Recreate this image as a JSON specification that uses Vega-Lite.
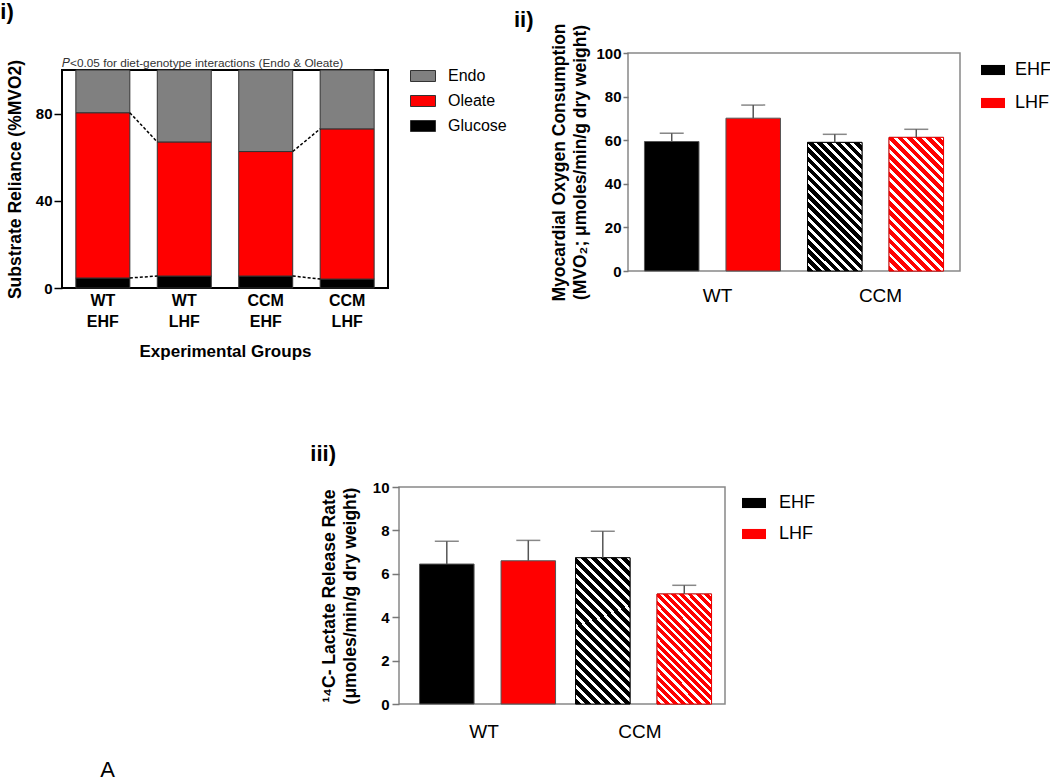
{
  "$schema": "https://vega.github.io/schema/vega-lite/v6.json",
  "padding": {"left": 0, "top": 0, "right": 0, "bottom": 0},
  "config": {
    "font": "Liberation Sans",
    "view": {"stroke": null},
    "axis": {"grid": false, "labelColor": "#000", "titleColor": "#000"},
    "legend": {"labelColor": "#000"},
    "title": {"color": "#000"}
  },
  "title": {"text": "A", "orient": "bottom", "anchor": "start", "dx": 100, "fontSize": 22, "fontWeight": "normal", "offset": 18},
  "bounds": "flush",
  "spacing": 434,
  "resolve": {"scale": {"color": "independent"}, "legend": {"color": "independent"}},
  "vconcat": [
    {
      "bounds": "flush",
      "spacing": 566,
      "resolve": {"scale": {"color": "independent"}, "legend": {"color": "independent"}},
      "hconcat": [
        {
          "bounds": "flush",
          "spacing": 16,
          "title": {"text": "i)", "anchor": "start", "fontSize": 22, "fontWeight": "bold", "offset": 27, "dx": -5},
          "vconcat": [
            {"width": 1, "height": 1, "data": {"values": [{}]}, "mark": {"type": "point", "opacity": 0}},
            {
              "width": 326,
              "height": 218,
              "view": {"stroke": "#000", "strokeWidth": 2},
              "title": {"text": "𝑃<0.05 for diet-genotype interactions (Endo & Oleate)", "anchor": "start", "frame": "group", "fontSize": 11.8, "fontWeight": "normal", "color": "#333", "offset": -10},
              "layer": [
                {
                  "data": {"values": [
                    {"group": "WT EHF", "substrate": "Glucose", "layer": 1, "value": 4.6},
                    {"group": "WT EHF", "substrate": "Oleate", "layer": 2, "value": 75.8},
                    {"group": "WT EHF", "substrate": "Endo", "layer": 3, "value": 19.6},
                    {"group": "WT LHF", "substrate": "Glucose", "layer": 1, "value": 5.5},
                    {"group": "WT LHF", "substrate": "Oleate", "layer": 2, "value": 61.5},
                    {"group": "WT LHF", "substrate": "Endo", "layer": 3, "value": 33.0},
                    {"group": "CCM EHF", "substrate": "Glucose", "layer": 1, "value": 5.5},
                    {"group": "CCM EHF", "substrate": "Oleate", "layer": 2, "value": 57.1},
                    {"group": "CCM EHF", "substrate": "Endo", "layer": 3, "value": 37.4},
                    {"group": "CCM LHF", "substrate": "Glucose", "layer": 1, "value": 4.1},
                    {"group": "CCM LHF", "substrate": "Oleate", "layer": 2, "value": 68.9},
                    {"group": "CCM LHF", "substrate": "Endo", "layer": 3, "value": 27.0}
                  ]},
                  "mark": {"type": "bar", "stroke": "#333", "strokeWidth": 1},
                  "encoding": {
                    "x": {"field": "group", "type": "nominal", "title": "Experimental Groups",
                      "scale": {"domain": ["WT EHF", "WT LHF", "CCM EHF", "CCM LHF"], "paddingInner": 0.337, "paddingOuter": 0.17},
                      "axis": {"labelExpr": "split(datum.label, ' ')", "labelAngle": 0, "labelFontSize": 16, "labelFontWeight": "bold", "labelLineHeight": 21, "labelPadding": 4, "ticks": false, "domain": false, "titleFontSize": 17, "titleFontWeight": "bold", "titlePadding": 14}},
                    "y": {"field": "value", "type": "quantitative", "stack": "zero", "title": "Substrate Reliance (%MVO2)",
                      "scale": {"domain": [0, 100], "nice": false},
                      "axis": {"values": [0, 40, 80], "labelFontSize": 15, "labelFontWeight": "bold", "tickSize": 8, "tickWidth": 1.5, "tickColor": "#000", "domain": false, "labelPadding": 2, "titleFontSize": 17.5, "titleFontWeight": "bold", "titlePadding": 11}},
                    "color": {"field": "substrate", "type": "nominal",
                      "scale": {"domain": ["Endo", "Oleate", "Glucose"], "range": ["#808080", "#ff0000", "#000000"]},
                      "legend": {"title": null, "orient": "right", "offset": 11, "padding": 10, "symbolType": "M-1,-0.44H1V0.44H-1Z", "symbolSize": 625, "symbolStrokeColor": "#333", "symbolStrokeWidth": 1, "labelFontSize": 16, "labelOffset": 12, "rowPadding": 4}},
                    "order": {"field": "layer", "type": "quantitative"}
                  }
                },
                {
                  "data": {"values": [
                    {"from": "WT EHF", "to": "WT LHF", "start": 80.4, "end": 67.0},
                    {"from": "CCM EHF", "to": "CCM LHF", "start": 62.6, "end": 73.0},
                    {"from": "WT EHF", "to": "WT LHF", "start": 4.6, "end": 5.5},
                    {"from": "CCM EHF", "to": "CCM LHF", "start": 5.5, "end": 4.1}
                  ]},
                  "mark": {"type": "rule", "color": "#000", "strokeWidth": 1.5, "strokeDash": [3, 2]},
                  "encoding": {
                    "x": {"field": "from", "type": "nominal", "bandPosition": 1, "title": "Experimental Groups", "scale": {"domain": ["WT EHF", "WT LHF", "CCM EHF", "CCM LHF"]}},
                    "x2": {"field": "to", "bandPosition": 0},
                    "y": {"field": "start", "type": "quantitative", "title": "Substrate Reliance (%MVO2)"},
                    "y2": {"field": "end"}
                  }
                }
              ]
            }
          ]
        },
        {
          "width": 332,
          "height": 218,
          "view": {"stroke": "#888", "strokeWidth": 1.5},
          "title": {"text": "ii)", "anchor": "start", "fontSize": 22, "fontWeight": "bold", "offset": -9, "dx": -37},
          "data": {"values": [
            {"genotype": "WT", "diet": "EHF", "mean": 59.4, "upper": 63.2},
            {"genotype": "WT", "diet": "LHF", "mean": 70.1, "upper": 76.1},
            {"genotype": "CCM", "diet": "EHF", "mean": 59.0, "upper": 62.7},
            {"genotype": "CCM", "diet": "LHF", "mean": 61.3, "upper": 65.0}
          ]},
          "encoding": {
            "x": {"field": "genotype", "type": "nominal", "title": null,
              "scale": {"domain": ["WT", "CCM"], "paddingInner": 0, "paddingOuter": 0.018},
              "axis": {"labelAngle": 0, "labelFontSize": 19, "labelPadding": 15, "ticks": false, "domain": false, "labelOffset": 5}},
            "xOffset": {"field": "diet", "type": "nominal", "scale": {"domain": ["EHF", "LHF"], "paddingInner": 0.331, "paddingOuter": 0.166}}
          },
          "layer": [
            {
              "mark": {"type": "bar", "stroke": "#555", "strokeWidth": 1},
              "encoding": {
                "y": {"field": "mean", "type": "quantitative", "title": ["Myocardial Oxygen Consumption", "(MVO₂; μmoles/min/g dry weight)"],
                  "scale": {"domain": [0, 100], "nice": false},
                  "axis": {"values": [0, 20, 40, 60, 80, 100], "labelFontSize": 15, "labelFontWeight": "bold", "tickSize": 5, "tickColor": "#777", "tickWidth": 1.5, "domain": false, "labelPadding": 2, "titleFontSize": 17.5, "titleFontWeight": "bold", "titleLineHeight": 21, "titlePadding": 6}},
                "color": {"field": "diet", "type": "nominal",
                  "scale": {"domain": ["EHF", "LHF"], "range": ["#000000", "#ff0000"]},
                  "legend": {"title": null, "orient": "right", "offset": 16, "padding": 5, "symbolType": "M-1,-0.42H1V0.42H-1Z", "symbolSize": 576, "symbolStrokeWidth": 0, "labelFontSize": 18, "labelOffset": 10, "rowPadding": 12}}
              }
            },
            {
              "transform": [{"filter": "datum.genotype === 'CCM' && datum.diet === 'EHF'"}],
              "mark": {"type": "bar", "stroke": "#000", "strokeWidth": 1,
                "fill": {"gradient": "linear", "x1": 0, "y1": 1, "x2": 0.5115, "y2": -0.207, "stops": [
                  {"offset": 0, "color": "#000"}, {"offset": 0.03, "color": "#000"}, {"offset": 0.03, "color": "#fff"}, {"offset": 0.05, "color": "#fff"},
                  {"offset": 0.05, "color": "#000"}, {"offset": 0.08, "color": "#000"}, {"offset": 0.08, "color": "#fff"}, {"offset": 0.1, "color": "#fff"},
                  {"offset": 0.1, "color": "#000"}, {"offset": 0.13, "color": "#000"}, {"offset": 0.13, "color": "#fff"}, {"offset": 0.15, "color": "#fff"},
                  {"offset": 0.15, "color": "#000"}, {"offset": 0.18, "color": "#000"}, {"offset": 0.18, "color": "#fff"}, {"offset": 0.2, "color": "#fff"},
                  {"offset": 0.2, "color": "#000"}, {"offset": 0.23, "color": "#000"}, {"offset": 0.23, "color": "#fff"}, {"offset": 0.25, "color": "#fff"},
                  {"offset": 0.25, "color": "#000"}, {"offset": 0.28, "color": "#000"}, {"offset": 0.28, "color": "#fff"}, {"offset": 0.3, "color": "#fff"},
                  {"offset": 0.3, "color": "#000"}, {"offset": 0.33, "color": "#000"}, {"offset": 0.33, "color": "#fff"}, {"offset": 0.35, "color": "#fff"},
                  {"offset": 0.35, "color": "#000"}, {"offset": 0.38, "color": "#000"}, {"offset": 0.38, "color": "#fff"}, {"offset": 0.4, "color": "#fff"},
                  {"offset": 0.4, "color": "#000"}, {"offset": 0.43, "color": "#000"}, {"offset": 0.43, "color": "#fff"}, {"offset": 0.45, "color": "#fff"},
                  {"offset": 0.45, "color": "#000"}, {"offset": 0.48, "color": "#000"}, {"offset": 0.48, "color": "#fff"}, {"offset": 0.5, "color": "#fff"},
                  {"offset": 0.5, "color": "#000"}, {"offset": 0.53, "color": "#000"}, {"offset": 0.53, "color": "#fff"}, {"offset": 0.55, "color": "#fff"},
                  {"offset": 0.55, "color": "#000"}, {"offset": 0.58, "color": "#000"}, {"offset": 0.58, "color": "#fff"}, {"offset": 0.6, "color": "#fff"},
                  {"offset": 0.6, "color": "#000"}, {"offset": 0.63, "color": "#000"}, {"offset": 0.63, "color": "#fff"}, {"offset": 0.65, "color": "#fff"},
                  {"offset": 0.65, "color": "#000"}, {"offset": 0.68, "color": "#000"}, {"offset": 0.68, "color": "#fff"}, {"offset": 0.7, "color": "#fff"},
                  {"offset": 0.7, "color": "#000"}, {"offset": 0.73, "color": "#000"}, {"offset": 0.73, "color": "#fff"}, {"offset": 0.75, "color": "#fff"},
                  {"offset": 0.75, "color": "#000"}, {"offset": 0.78, "color": "#000"}, {"offset": 0.78, "color": "#fff"}, {"offset": 0.8, "color": "#fff"},
                  {"offset": 0.8, "color": "#000"}, {"offset": 0.83, "color": "#000"}, {"offset": 0.83, "color": "#fff"}, {"offset": 0.85, "color": "#fff"},
                  {"offset": 0.85, "color": "#000"}, {"offset": 0.88, "color": "#000"}, {"offset": 0.88, "color": "#fff"}, {"offset": 0.9, "color": "#fff"},
                  {"offset": 0.9, "color": "#000"}, {"offset": 0.93, "color": "#000"}, {"offset": 0.93, "color": "#fff"}, {"offset": 0.95, "color": "#fff"},
                  {"offset": 0.95, "color": "#000"}, {"offset": 0.98, "color": "#000"}, {"offset": 0.98, "color": "#fff"}, {"offset": 1, "color": "#fff"}
                ]}},
              "encoding": {"y": {"field": "mean", "type": "quantitative"}}
            },
            {
              "transform": [{"filter": "datum.genotype === 'CCM' && datum.diet === 'LHF'"}],
              "mark": {"type": "bar", "stroke": "#e00", "strokeWidth": 1,
                "fill": {"gradient": "linear", "x1": 0, "y1": 1, "x2": 0.4924, "y2": -0.2071, "stops": [
                  {"offset": 0, "color": "#f00"}, {"offset": 0.03, "color": "#f00"}, {"offset": 0.03, "color": "#fff"}, {"offset": 0.05, "color": "#fff"},
                  {"offset": 0.05, "color": "#f00"}, {"offset": 0.08, "color": "#f00"}, {"offset": 0.08, "color": "#fff"}, {"offset": 0.1, "color": "#fff"},
                  {"offset": 0.1, "color": "#f00"}, {"offset": 0.13, "color": "#f00"}, {"offset": 0.13, "color": "#fff"}, {"offset": 0.15, "color": "#fff"},
                  {"offset": 0.15, "color": "#f00"}, {"offset": 0.18, "color": "#f00"}, {"offset": 0.18, "color": "#fff"}, {"offset": 0.2, "color": "#fff"},
                  {"offset": 0.2, "color": "#f00"}, {"offset": 0.23, "color": "#f00"}, {"offset": 0.23, "color": "#fff"}, {"offset": 0.25, "color": "#fff"},
                  {"offset": 0.25, "color": "#f00"}, {"offset": 0.28, "color": "#f00"}, {"offset": 0.28, "color": "#fff"}, {"offset": 0.3, "color": "#fff"},
                  {"offset": 0.3, "color": "#f00"}, {"offset": 0.33, "color": "#f00"}, {"offset": 0.33, "color": "#fff"}, {"offset": 0.35, "color": "#fff"},
                  {"offset": 0.35, "color": "#f00"}, {"offset": 0.38, "color": "#f00"}, {"offset": 0.38, "color": "#fff"}, {"offset": 0.4, "color": "#fff"},
                  {"offset": 0.4, "color": "#f00"}, {"offset": 0.43, "color": "#f00"}, {"offset": 0.43, "color": "#fff"}, {"offset": 0.45, "color": "#fff"},
                  {"offset": 0.45, "color": "#f00"}, {"offset": 0.48, "color": "#f00"}, {"offset": 0.48, "color": "#fff"}, {"offset": 0.5, "color": "#fff"},
                  {"offset": 0.5, "color": "#f00"}, {"offset": 0.53, "color": "#f00"}, {"offset": 0.53, "color": "#fff"}, {"offset": 0.55, "color": "#fff"},
                  {"offset": 0.55, "color": "#f00"}, {"offset": 0.58, "color": "#f00"}, {"offset": 0.58, "color": "#fff"}, {"offset": 0.6, "color": "#fff"},
                  {"offset": 0.6, "color": "#f00"}, {"offset": 0.63, "color": "#f00"}, {"offset": 0.63, "color": "#fff"}, {"offset": 0.65, "color": "#fff"},
                  {"offset": 0.65, "color": "#f00"}, {"offset": 0.68, "color": "#f00"}, {"offset": 0.68, "color": "#fff"}, {"offset": 0.7, "color": "#fff"},
                  {"offset": 0.7, "color": "#f00"}, {"offset": 0.73, "color": "#f00"}, {"offset": 0.73, "color": "#fff"}, {"offset": 0.75, "color": "#fff"},
                  {"offset": 0.75, "color": "#f00"}, {"offset": 0.78, "color": "#f00"}, {"offset": 0.78, "color": "#fff"}, {"offset": 0.8, "color": "#fff"},
                  {"offset": 0.8, "color": "#f00"}, {"offset": 0.83, "color": "#f00"}, {"offset": 0.83, "color": "#fff"}, {"offset": 0.85, "color": "#fff"},
                  {"offset": 0.85, "color": "#f00"}, {"offset": 0.88, "color": "#f00"}, {"offset": 0.88, "color": "#fff"}, {"offset": 0.9, "color": "#fff"},
                  {"offset": 0.9, "color": "#f00"}, {"offset": 0.93, "color": "#f00"}, {"offset": 0.93, "color": "#fff"}, {"offset": 0.95, "color": "#fff"},
                  {"offset": 0.95, "color": "#f00"}, {"offset": 0.98, "color": "#f00"}, {"offset": 0.98, "color": "#fff"}, {"offset": 1, "color": "#fff"}
                ]}},
              "encoding": {"y": {"field": "mean", "type": "quantitative"}}
            },
            {
              "mark": {"type": "rule", "color": "#555", "strokeWidth": 1.5},
              "encoding": {"y": {"field": "mean", "type": "quantitative"}, "y2": {"field": "upper"}}
            },
            {
              "mark": {"type": "tick", "color": "#555", "thickness": 1.5, "size": 24, "orient": "horizontal"},
              "encoding": {"y": {"field": "upper", "type": "quantitative"}}
            }
          ]
        }
      ]
    },
    {
      "bounds": "flush",
      "spacing": 13,
      "resolve": {"scale": {"color": "independent"}, "legend": {"color": "independent"}},
      "hconcat": [
        {"width": 324, "height": 1, "data": {"values": [{}]}, "mark": {"type": "point", "opacity": 0}},
        {
          "width": 326,
          "height": 217,
          "view": {"stroke": "#888", "strokeWidth": 1.5},
          "title": {"text": "iii)", "anchor": "start", "fontSize": 22, "fontWeight": "bold", "offset": 14, "dx": -10},
          "data": {"values": [
            {"genotype": "WT", "diet": "EHF", "mean": 6.45, "upper": 7.5},
            {"genotype": "WT", "diet": "LHF", "mean": 6.6, "upper": 7.54},
            {"genotype": "CCM", "diet": "EHF", "mean": 6.74, "upper": 7.96},
            {"genotype": "CCM", "diet": "LHF", "mean": 5.07, "upper": 5.47}
          ]},
          "encoding": {
            "x": {"field": "genotype", "type": "nominal", "title": null,
              "scale": {"domain": ["WT", "CCM"], "paddingInner": 0, "paddingOuter": 0.045},
              "axis": {"labelAngle": 0, "labelFontSize": 19, "labelPadding": 18, "ticks": false, "domain": false}},
            "xOffset": {"field": "diet", "type": "nominal", "scale": {"domain": ["EHF", "LHF"], "paddingInner": 0.295, "paddingOuter": 0.1475}}
          },
          "layer": [
            {
              "mark": {"type": "bar", "stroke": "#555", "strokeWidth": 1},
              "encoding": {
                "y": {"field": "mean", "type": "quantitative", "title": ["¹⁴C- Lactate Release Rate", "(μmoles/min/g dry weight)"],
                  "scale": {"domain": [0, 10], "nice": false},
                  "axis": {"values": [0, 2, 4, 6, 8, 10], "labelFontSize": 15, "labelFontWeight": "bold", "tickSize": 7, "tickColor": "#777", "tickWidth": 1.5, "domain": false, "labelPadding": 3, "titleFontSize": 17.5, "titleFontWeight": "bold", "titleLineHeight": 21, "titlePadding": 13}},
                "color": {"field": "diet", "type": "nominal",
                  "scale": {"domain": ["EHF", "LHF"], "range": ["#000000", "#ff0000"]},
                  "legend": {"title": null, "orient": "right", "offset": 13, "padding": 4, "symbolType": "M-1,-0.42H1V0.42H-1Z", "symbolSize": 576, "symbolStrokeWidth": 0, "labelFontSize": 18, "labelOffset": 13, "rowPadding": 10}}
              }
            },
            {
              "transform": [{"filter": "datum.genotype === 'CCM' && datum.diet === 'EHF'"}],
              "mark": {"type": "bar", "stroke": "#000", "strokeWidth": 1,
                "fill": {"gradient": "linear", "x1": 0, "y1": 1, "x2": 0.4532, "y2": -0.2055, "stops": [
                  {"offset": 0, "color": "#000"}, {"offset": 0.03, "color": "#000"}, {"offset": 0.03, "color": "#fff"}, {"offset": 0.05, "color": "#fff"},
                  {"offset": 0.05, "color": "#000"}, {"offset": 0.08, "color": "#000"}, {"offset": 0.08, "color": "#fff"}, {"offset": 0.1, "color": "#fff"},
                  {"offset": 0.1, "color": "#000"}, {"offset": 0.13, "color": "#000"}, {"offset": 0.13, "color": "#fff"}, {"offset": 0.15, "color": "#fff"},
                  {"offset": 0.15, "color": "#000"}, {"offset": 0.18, "color": "#000"}, {"offset": 0.18, "color": "#fff"}, {"offset": 0.2, "color": "#fff"},
                  {"offset": 0.2, "color": "#000"}, {"offset": 0.23, "color": "#000"}, {"offset": 0.23, "color": "#fff"}, {"offset": 0.25, "color": "#fff"},
                  {"offset": 0.25, "color": "#000"}, {"offset": 0.28, "color": "#000"}, {"offset": 0.28, "color": "#fff"}, {"offset": 0.3, "color": "#fff"},
                  {"offset": 0.3, "color": "#000"}, {"offset": 0.33, "color": "#000"}, {"offset": 0.33, "color": "#fff"}, {"offset": 0.35, "color": "#fff"},
                  {"offset": 0.35, "color": "#000"}, {"offset": 0.38, "color": "#000"}, {"offset": 0.38, "color": "#fff"}, {"offset": 0.4, "color": "#fff"},
                  {"offset": 0.4, "color": "#000"}, {"offset": 0.43, "color": "#000"}, {"offset": 0.43, "color": "#fff"}, {"offset": 0.45, "color": "#fff"},
                  {"offset": 0.45, "color": "#000"}, {"offset": 0.48, "color": "#000"}, {"offset": 0.48, "color": "#fff"}, {"offset": 0.5, "color": "#fff"},
                  {"offset": 0.5, "color": "#000"}, {"offset": 0.53, "color": "#000"}, {"offset": 0.53, "color": "#fff"}, {"offset": 0.55, "color": "#fff"},
                  {"offset": 0.55, "color": "#000"}, {"offset": 0.58, "color": "#000"}, {"offset": 0.58, "color": "#fff"}, {"offset": 0.6, "color": "#fff"},
                  {"offset": 0.6, "color": "#000"}, {"offset": 0.63, "color": "#000"}, {"offset": 0.63, "color": "#fff"}, {"offset": 0.65, "color": "#fff"},
                  {"offset": 0.65, "color": "#000"}, {"offset": 0.68, "color": "#000"}, {"offset": 0.68, "color": "#fff"}, {"offset": 0.7, "color": "#fff"},
                  {"offset": 0.7, "color": "#000"}, {"offset": 0.73, "color": "#000"}, {"offset": 0.73, "color": "#fff"}, {"offset": 0.75, "color": "#fff"},
                  {"offset": 0.75, "color": "#000"}, {"offset": 0.78, "color": "#000"}, {"offset": 0.78, "color": "#fff"}, {"offset": 0.8, "color": "#fff"},
                  {"offset": 0.8, "color": "#000"}, {"offset": 0.83, "color": "#000"}, {"offset": 0.83, "color": "#fff"}, {"offset": 0.85, "color": "#fff"},
                  {"offset": 0.85, "color": "#000"}, {"offset": 0.88, "color": "#000"}, {"offset": 0.88, "color": "#fff"}, {"offset": 0.9, "color": "#fff"},
                  {"offset": 0.9, "color": "#000"}, {"offset": 0.93, "color": "#000"}, {"offset": 0.93, "color": "#fff"}, {"offset": 0.95, "color": "#fff"},
                  {"offset": 0.95, "color": "#000"}, {"offset": 0.98, "color": "#000"}, {"offset": 0.98, "color": "#fff"}, {"offset": 1, "color": "#fff"}
                ]}},
              "encoding": {"y": {"field": "mean", "type": "quantitative"}}
            },
            {
              "transform": [{"filter": "datum.genotype === 'CCM' && datum.diet === 'LHF'"}],
              "mark": {"type": "bar", "stroke": "#e00", "strokeWidth": 1,
                "fill": {"gradient": "linear", "x1": 0, "y1": 1, "x2": 0.6, "y2": -0.2, "stops": [
                  {"offset": 0, "color": "#f00"}, {"offset": 0.03, "color": "#f00"}, {"offset": 0.03, "color": "#fff"}, {"offset": 0.05, "color": "#fff"},
                  {"offset": 0.05, "color": "#f00"}, {"offset": 0.08, "color": "#f00"}, {"offset": 0.08, "color": "#fff"}, {"offset": 0.1, "color": "#fff"},
                  {"offset": 0.1, "color": "#f00"}, {"offset": 0.13, "color": "#f00"}, {"offset": 0.13, "color": "#fff"}, {"offset": 0.15, "color": "#fff"},
                  {"offset": 0.15, "color": "#f00"}, {"offset": 0.18, "color": "#f00"}, {"offset": 0.18, "color": "#fff"}, {"offset": 0.2, "color": "#fff"},
                  {"offset": 0.2, "color": "#f00"}, {"offset": 0.23, "color": "#f00"}, {"offset": 0.23, "color": "#fff"}, {"offset": 0.25, "color": "#fff"},
                  {"offset": 0.25, "color": "#f00"}, {"offset": 0.28, "color": "#f00"}, {"offset": 0.28, "color": "#fff"}, {"offset": 0.3, "color": "#fff"},
                  {"offset": 0.3, "color": "#f00"}, {"offset": 0.33, "color": "#f00"}, {"offset": 0.33, "color": "#fff"}, {"offset": 0.35, "color": "#fff"},
                  {"offset": 0.35, "color": "#f00"}, {"offset": 0.38, "color": "#f00"}, {"offset": 0.38, "color": "#fff"}, {"offset": 0.4, "color": "#fff"},
                  {"offset": 0.4, "color": "#f00"}, {"offset": 0.43, "color": "#f00"}, {"offset": 0.43, "color": "#fff"}, {"offset": 0.45, "color": "#fff"},
                  {"offset": 0.45, "color": "#f00"}, {"offset": 0.48, "color": "#f00"}, {"offset": 0.48, "color": "#fff"}, {"offset": 0.5, "color": "#fff"},
                  {"offset": 0.5, "color": "#f00"}, {"offset": 0.53, "color": "#f00"}, {"offset": 0.53, "color": "#fff"}, {"offset": 0.55, "color": "#fff"},
                  {"offset": 0.55, "color": "#f00"}, {"offset": 0.58, "color": "#f00"}, {"offset": 0.58, "color": "#fff"}, {"offset": 0.6, "color": "#fff"},
                  {"offset": 0.6, "color": "#f00"}, {"offset": 0.63, "color": "#f00"}, {"offset": 0.63, "color": "#fff"}, {"offset": 0.65, "color": "#fff"},
                  {"offset": 0.65, "color": "#f00"}, {"offset": 0.68, "color": "#f00"}, {"offset": 0.68, "color": "#fff"}, {"offset": 0.7, "color": "#fff"},
                  {"offset": 0.7, "color": "#f00"}, {"offset": 0.73, "color": "#f00"}, {"offset": 0.73, "color": "#fff"}, {"offset": 0.75, "color": "#fff"},
                  {"offset": 0.75, "color": "#f00"}, {"offset": 0.78, "color": "#f00"}, {"offset": 0.78, "color": "#fff"}, {"offset": 0.8, "color": "#fff"},
                  {"offset": 0.8, "color": "#f00"}, {"offset": 0.83, "color": "#f00"}, {"offset": 0.83, "color": "#fff"}, {"offset": 0.85, "color": "#fff"},
                  {"offset": 0.85, "color": "#f00"}, {"offset": 0.88, "color": "#f00"}, {"offset": 0.88, "color": "#fff"}, {"offset": 0.9, "color": "#fff"},
                  {"offset": 0.9, "color": "#f00"}, {"offset": 0.93, "color": "#f00"}, {"offset": 0.93, "color": "#fff"}, {"offset": 0.95, "color": "#fff"},
                  {"offset": 0.95, "color": "#f00"}, {"offset": 0.98, "color": "#f00"}, {"offset": 0.98, "color": "#fff"}, {"offset": 1, "color": "#fff"}
                ]}},
              "encoding": {"y": {"field": "mean", "type": "quantitative"}}
            },
            {
              "mark": {"type": "rule", "color": "#555", "strokeWidth": 1.5},
              "encoding": {"y": {"field": "mean", "type": "quantitative"}, "y2": {"field": "upper"}}
            },
            {
              "mark": {"type": "tick", "color": "#555", "thickness": 1.5, "size": 24, "orient": "horizontal"},
              "encoding": {"y": {"field": "upper", "type": "quantitative"}}
            }
          ]
        }
      ]
    }
  ]
}
